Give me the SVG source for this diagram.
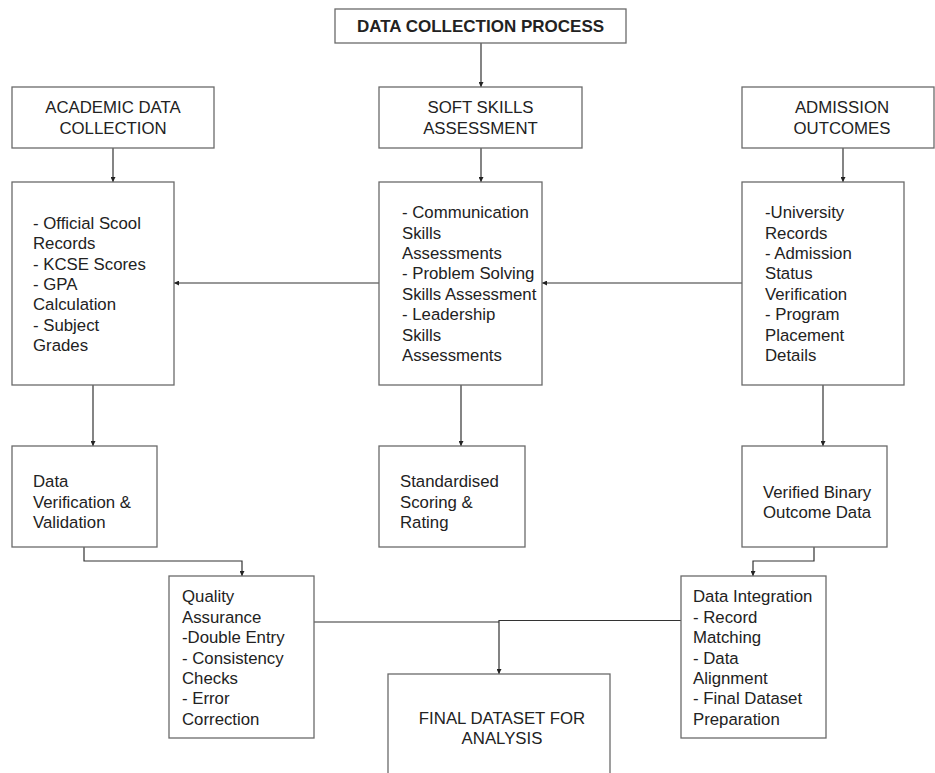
<svg xmlns="http://www.w3.org/2000/svg" width="935" height="773" viewBox="0 0 935 773">
  <style>
    .box { fill: #ffffff; stroke: #6a6a6a; stroke-width: 1.3; }
    .t { font-family: "Liberation Sans", Arial, sans-serif; font-size: 16.8px; fill: #222222; }
    .c { text-anchor: middle; }
    .title { font-weight: bold; font-size: 17px; }
    .wire { fill: none; stroke: #333333; stroke-width: 1.2; }
  </style>
  <defs>
    <marker id="arrow" viewBox="0 0 10 10" refX="10" refY="5" markerWidth="5" markerHeight="5" markerUnits="userSpaceOnUse" orient="auto">
      <path d="M0,0 L10,5 L0,10 z" fill="#222222"/>
    </marker>
  </defs>
  <rect width="935" height="773" fill="#ffffff"/>

  <!-- connectors -->
  <g id="connectors" class="wire" marker-end="url(#arrow)">
    <path d="M481,43 V87"/>
    <path d="M113,148 V182"/>
    <path d="M481,148 V182"/>
    <path d="M843,148 V182"/>
    <path d="M379,283 H174"/>
    <path d="M742,283 H542"/>
    <path d="M93,385 V446"/>
    <path d="M461,385 V446"/>
    <path d="M823,385 V446"/>
    <path d="M84,547 V561 H242 V576"/>
    <path d="M814,547 V561 H753 V576"/>
    <path d="M681,620.5 H499 V674"/>
    <path d="M314,622 H499" marker-end="none"/>
  </g>

  <g id="title">
    <rect class="box" x="335" y="9" width="291" height="34"/>
    <text class="t c title" x="480.5" y="32">DATA COLLECTION PROCESS</text>
  </g>

  <g id="academic">
    <rect class="box" x="12" y="87" width="202" height="61"/>
    <text class="t c" x="113" y="113">ACADEMIC DATA</text>
    <text class="t c" x="113" y="134">COLLECTION</text>
  </g>

  <g id="softskills">
    <rect class="box" x="379" y="87" width="203" height="61"/>
    <text class="t c" x="480.5" y="113">SOFT SKILLS</text>
    <text class="t c" x="480.5" y="134">ASSESSMENT</text>
  </g>

  <g id="admission">
    <rect class="box" x="742" y="87" width="192" height="61"/>
    <text class="t c" x="842" y="113">ADMISSION</text>
    <text class="t c" x="842" y="134">OUTCOMES</text>
  </g>

  <g id="academic-sources">
    <rect class="box" x="12" y="182" width="162" height="203"/>
    <text class="t" x="33" y="228.5">- Official Scool</text>
    <text class="t" x="33" y="249">Records</text>
    <text class="t" x="33" y="269.5">- KCSE Scores</text>
    <text class="t" x="33" y="290">- GPA</text>
    <text class="t" x="33" y="310">Calculation</text>
    <text class="t" x="33" y="330.5">- Subject</text>
    <text class="t" x="33" y="351">Grades</text>
  </g>

  <g id="softskills-assessments">
    <rect class="box" x="379" y="182" width="163" height="203"/>
    <text class="t" x="402" y="218">- Communication</text>
    <text class="t" x="402" y="238.5">Skills</text>
    <text class="t" x="402" y="259">Assessments</text>
    <text class="t" x="402" y="279">- Problem Solving</text>
    <text class="t" x="402" y="299.5">Skills Assessment</text>
    <text class="t" x="402" y="320">- Leadership</text>
    <text class="t" x="402" y="340.5">Skills</text>
    <text class="t" x="402" y="361">Assessments</text>
  </g>

  <g id="admission-records">
    <rect class="box" x="742" y="182" width="162" height="203"/>
    <text class="t" x="765" y="218">-University</text>
    <text class="t" x="765" y="238.5">Records</text>
    <text class="t" x="765" y="259">- Admission</text>
    <text class="t" x="765" y="279">Status</text>
    <text class="t" x="765" y="299.5">Verification</text>
    <text class="t" x="765" y="320">- Program</text>
    <text class="t" x="765" y="340.5">Placement</text>
    <text class="t" x="765" y="361">Details</text>
  </g>

  <g id="verification">
    <rect class="box" x="12" y="446" width="145" height="101"/>
    <text class="t" x="33" y="487">Data</text>
    <text class="t" x="33" y="507.5">Verification &amp;</text>
    <text class="t" x="33" y="528">Validation</text>
  </g>

  <g id="scoring">
    <rect class="box" x="379" y="446" width="146" height="101"/>
    <text class="t" x="400" y="487">Standardised</text>
    <text class="t" x="400" y="507.5">Scoring &amp;</text>
    <text class="t" x="400" y="528">Rating</text>
  </g>

  <g id="binary-outcome">
    <rect class="box" x="742" y="446" width="145" height="101"/>
    <text class="t" x="763" y="497.5">Verified Binary</text>
    <text class="t" x="763" y="518">Outcome Data</text>
  </g>

  <g id="quality">
    <rect class="box" x="169" y="576" width="145" height="162"/>
    <text class="t" x="182" y="602">Quality</text>
    <text class="t" x="182" y="622.5">Assurance</text>
    <text class="t" x="182" y="643">-Double Entry</text>
    <text class="t" x="182" y="663.5">- Consistency</text>
    <text class="t" x="182" y="684">Checks</text>
    <text class="t" x="182" y="704">- Error</text>
    <text class="t" x="182" y="724.5">Correction</text>
  </g>

  <g id="integration">
    <rect class="box" x="681" y="576" width="145" height="162"/>
    <text class="t" x="693" y="602">Data Integration</text>
    <text class="t" x="693" y="622.5">- Record</text>
    <text class="t" x="693" y="643">Matching</text>
    <text class="t" x="693" y="663.5">- Data</text>
    <text class="t" x="693" y="684">Alignment</text>
    <text class="t" x="693" y="704">- Final Dataset</text>
    <text class="t" x="693" y="724.5">Preparation</text>
  </g>

  <g id="final-dataset">
    <rect class="box" x="388" y="674" width="222" height="110"/>
    <text class="t c" x="502" y="724">FINAL DATASET FOR</text>
    <text class="t c" x="502" y="744">ANALYSIS</text>
  </g>
</svg>
